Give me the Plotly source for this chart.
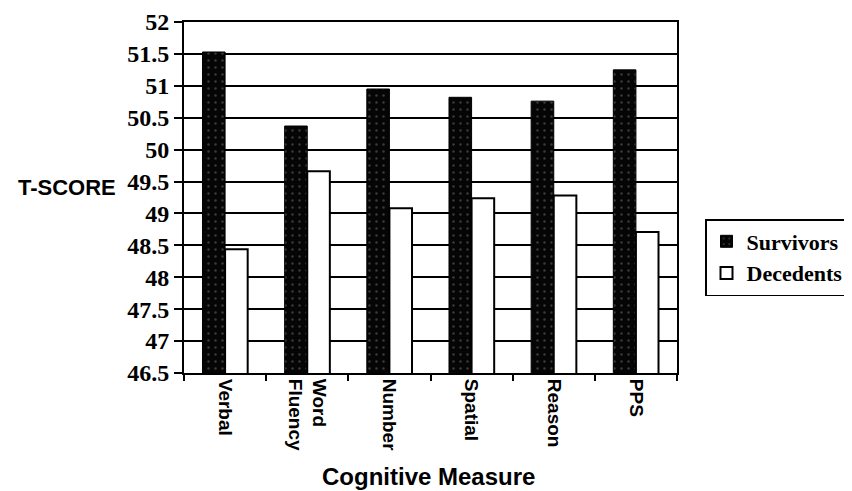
import plotly.graph_objects as go

categories = ["Verbal", "Word Fluency", "Number", "Spatial", "Reason", "PPS"]
category_labels = ["<b>Verbal</b>", "<b>Word</b><br><b>Fluency</b>", "<b>Number</b>",
                   "<b>Spatial</b>", "<b>Reason</b>", "<b>PPS</b>"]
survivors = [51.53, 50.37, 50.95, 50.82, 50.76, 51.25]
decedents = [48.44, 49.66, 49.08, 49.24, 49.28, 48.71]
y_ticks = [46.5, 47, 47.5, 48, 48.5, 49, 49.5, 50, 50.5, 51, 51.5, 52]
y_tick_text = ["46.5", "47", "47.5", "48", "48.5", "49", "49.5", "50", "50.5", "51", "51.5", "52"]

fig = go.Figure()
fig.add_trace(go.Bar(
    x=categories, y=survivors, name="<b>Survivors</b>",
    marker=dict(color="#050505", line=dict(color="black", width=1),
                pattern=dict(shape=".", bgcolor="#050505", fgcolor="#3a3a3a",
                             size=7, solidity=0.1, fillmode="replace")),
))
fig.add_trace(go.Bar(
    x=categories, y=decedents, name="<b>Decedents</b>",
    marker=dict(color="white", line=dict(color="black", width=2)),
))

# page body has an 8px default margin, so offsets are compensated here
fig.update_layout(
    width=852, height=491,
    margin=dict(l=176, r=183, t=14, b=126, autoexpand=False),
    paper_bgcolor="white", plot_bgcolor="white",
    barmode="group", bargap=0.45, bargroupgap=0,
    showlegend=True,
    legend=dict(
        x=(705 - 184) / 493, y=(373 - 219) / 351, xanchor="left", yanchor="top",
        font=dict(family="Liberation Serif", size=22, color="black"),
        bordercolor="black", borderwidth=1.5, bgcolor="white",
        tracegroupgap=0,
    ),
    xaxis=dict(
        automargin=False,
        tickvals=categories, ticktext=category_labels,
        showline=True, linecolor="black", linewidth=2, mirror=True,
        ticks="outside", tickson="boundaries", ticklen=6, tickcolor="black", tickwidth=2,
        tickangle=90,
        tickfont=dict(family="Liberation Sans", size=19, color="black"),
        showgrid=False,
    ),
    yaxis=dict(
        automargin=False,
        range=[46.5, 52],
        tickvals=y_ticks, ticktext=["<b>" + t + "</b>" for t in y_tick_text],
        showline=True, linecolor="black", linewidth=2, mirror=True,
        ticks="outside", ticklen=8, tickcolor="black", tickwidth=2,
        tickfont=dict(family="Liberation Serif", size=24, color="black", weight="bold"),
        showgrid=True, gridcolor="black", gridwidth=2,
        zeroline=False,
    ),
    annotations=[
        dict(text="<b>T-SCORE</b>", xref="paper", yref="paper",
             x=(67 - 184) / 493, y=(373 - 187) / 351, xanchor="center", yanchor="middle",
             showarrow=False,
             font=dict(family="Liberation Sans", size=22, color="black")),
        dict(text="<b>Cognitive Measure</b>", xref="paper", yref="paper",
             x=(428 - 184) / 493, y=(373 - 476) / 351, xanchor="center", yanchor="middle",
             showarrow=False,
             font=dict(family="Liberation Sans", size=24, color="black")),
    ],
)

fig.write_html("out.html")
